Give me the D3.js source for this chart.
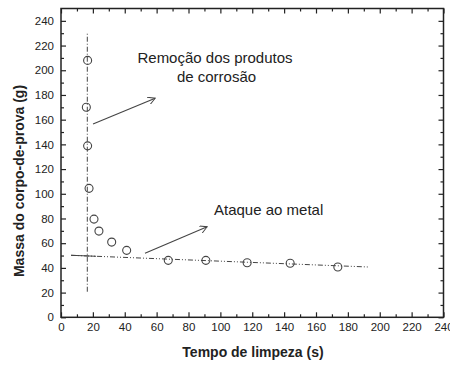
<!DOCTYPE html>
<html><head><meta charset="utf-8">
<script src="https://cdn.jsdelivr.net/npm/d3@7"></script>
<style>
body{margin:0;background:#fff;}
svg text{font-family:"Liberation Sans",Arial,sans-serif;fill:#222;}
</style></head>
<body><svg id="c" width="450" height="365"></svg>
<script>
const timeS = [16.7, 15.9, 16.7, 17.6, 20.7, 23.8, 31.8, 41.2, 67.3, 90.9, 116.8, 143.8, 173.7];
const massG = [208, 170, 138.8, 104.4, 79.5, 69.8, 60.9, 54.2, 46.1, 46.1, 44.2, 43.7, 40.7];
const xTicks = [0,20,40,60,80,100,120,140,160,180,200,220,240];
const yTicks = [0,20,40,60,80,100,120,140,160,180,200,220,240];
const vLine = [[16.5, 20.7], [16.5, 230]];
const hLine = [[6.3, 50.2], [193.3, 40.7]];
const arrow1 = [[20.1, 156.4], [59.1, 177.4]];
const arrow2 = [[52.7, 51.8], [91.7, 73.3]];
const label1 = ["Remoção dos produtos", "de corrosão"];
const label2 = "Ataque ao metal";

const svg = d3.select("#c");
const L = 61, R = 443.5, T = 8.5, B = 317.3;
const x = d3.scaleLinear().domain([0, 240]).range([L, R]);
const y = d3.scaleLinear().domain([0, 250]).range([B, T]);
const xMinor = d3.range(10, 240, 20);
const yMinor = d3.range(10, 250, 20);
const ink = "#222";

function styleAxis(g){ g.select(".domain").remove(); g.selectAll("line").attr("stroke", ink).attr("stroke-width",1.2); g.selectAll("text").attr("font-size","11.5px").attr("fill","#333"); }

// bottom
svg.append("g").attr("transform",`translate(0,${B})`)
  .call(d3.axisBottom(x).tickValues(xTicks).tickSize(-5).tickPadding(6)).call(styleAxis);
svg.append("g").attr("transform",`translate(0,${B})`)
  .call(d3.axisBottom(x).tickValues(xMinor).tickSize(-3).tickFormat("")).call(styleAxis);
// top
svg.append("g").attr("transform",`translate(0,${T})`)
  .call(d3.axisTop(x).tickValues(xTicks).tickSize(-5).tickFormat("")).call(styleAxis);
svg.append("g").attr("transform",`translate(0,${T})`)
  .call(d3.axisTop(x).tickValues(xMinor).tickSize(-3).tickFormat("")).call(styleAxis);
// left
svg.append("g").attr("transform",`translate(${L},0)`)
  .call(d3.axisLeft(y).tickValues(yTicks).tickSize(-5).tickPadding(7)).call(styleAxis);
svg.append("g").attr("transform",`translate(${L},0)`)
  .call(d3.axisLeft(y).tickValues(yMinor).tickSize(-3).tickFormat("")).call(styleAxis);
// right
svg.append("g").attr("transform",`translate(${R},0)`)
  .call(d3.axisRight(y).tickValues(yTicks).tickSize(-5).tickFormat("")).call(styleAxis);
svg.append("g").attr("transform",`translate(${R},0)`)
  .call(d3.axisRight(y).tickValues(yMinor).tickSize(-3).tickFormat("")).call(styleAxis);

// frame
svg.append("rect").attr("x",L).attr("y",T).attr("width",R-L).attr("height",B-T)
  .attr("fill","none").attr("stroke",ink).attr("stroke-width",1.5);

const line = d3.line().x(d=>x(d[0])).y(d=>y(d[1]));
svg.append("path").attr("d", line(vLine)).attr("stroke","#444").attr("fill","none")
  .attr("stroke-width",1).attr("stroke-dasharray","5,2,1,2");
svg.append("path").attr("d", line(hLine)).attr("stroke","#444").attr("fill","none")
  .attr("stroke-width",1).attr("stroke-dasharray","5,2,1,2,1,2");
// small cross segment
svg.append("path").attr("d", line([[hLine[0][0], hLine[0][1]],[22, 50.2 - (50.2-40.7)*(22-6.3)/(193.3-6.3)]]))
  .attr("stroke","#444").attr("stroke-width",1).attr("fill","none");

// points
svg.append("g").selectAll("circle").data(timeS.map((t,i)=>[t,massG[i]])).join("circle")
  .attr("cx",d=>x(d[0])).attr("cy",d=>y(d[1])).attr("r",4)
  .attr("fill","none").attr("stroke","#444").attr("stroke-width",1.1);

// arrows
svg.append("defs").append("marker").attr("id","ah").attr("viewBox","0 0 10 10")
  .attr("refX",9).attr("refY",5).attr("markerWidth",8).attr("markerHeight",8)
  .attr("orient","auto").attr("markerUnits","userSpaceOnUse")
  .append("path").attr("d","M0,0 L9,5 L0,10").attr("fill","none").attr("stroke","#444").attr("stroke-width",1.2);
[arrow1, arrow2].forEach(a=>{
  svg.append("path").attr("d", line(a)).attr("stroke","#444").attr("stroke-width",1.1)
    .attr("fill","none").attr("marker-end","url(#ah)");
});

// labels
svg.append("text").attr("x",215).attr("y",63).attr("text-anchor","middle").attr("font-size","15px").text(label1[0]);
svg.append("text").attr("x",216.5).attr("y",81.5).attr("text-anchor","middle").attr("font-size","15px").text(label1[1]);
svg.append("text").attr("x",214).attr("y",215).attr("font-size","15px").text(label2);

svg.append("text").attr("x",253).attr("y",357).attr("text-anchor","middle")
  .attr("font-size","14px").attr("font-weight","bold").text("Tempo de limpeza (s)");
svg.append("text").attr("transform","translate(24,181) rotate(-90)").attr("text-anchor","middle")
  .attr("font-size","14px").attr("font-weight","bold").text("Massa do corpo-de-prova (g)");
</script></body></html>
